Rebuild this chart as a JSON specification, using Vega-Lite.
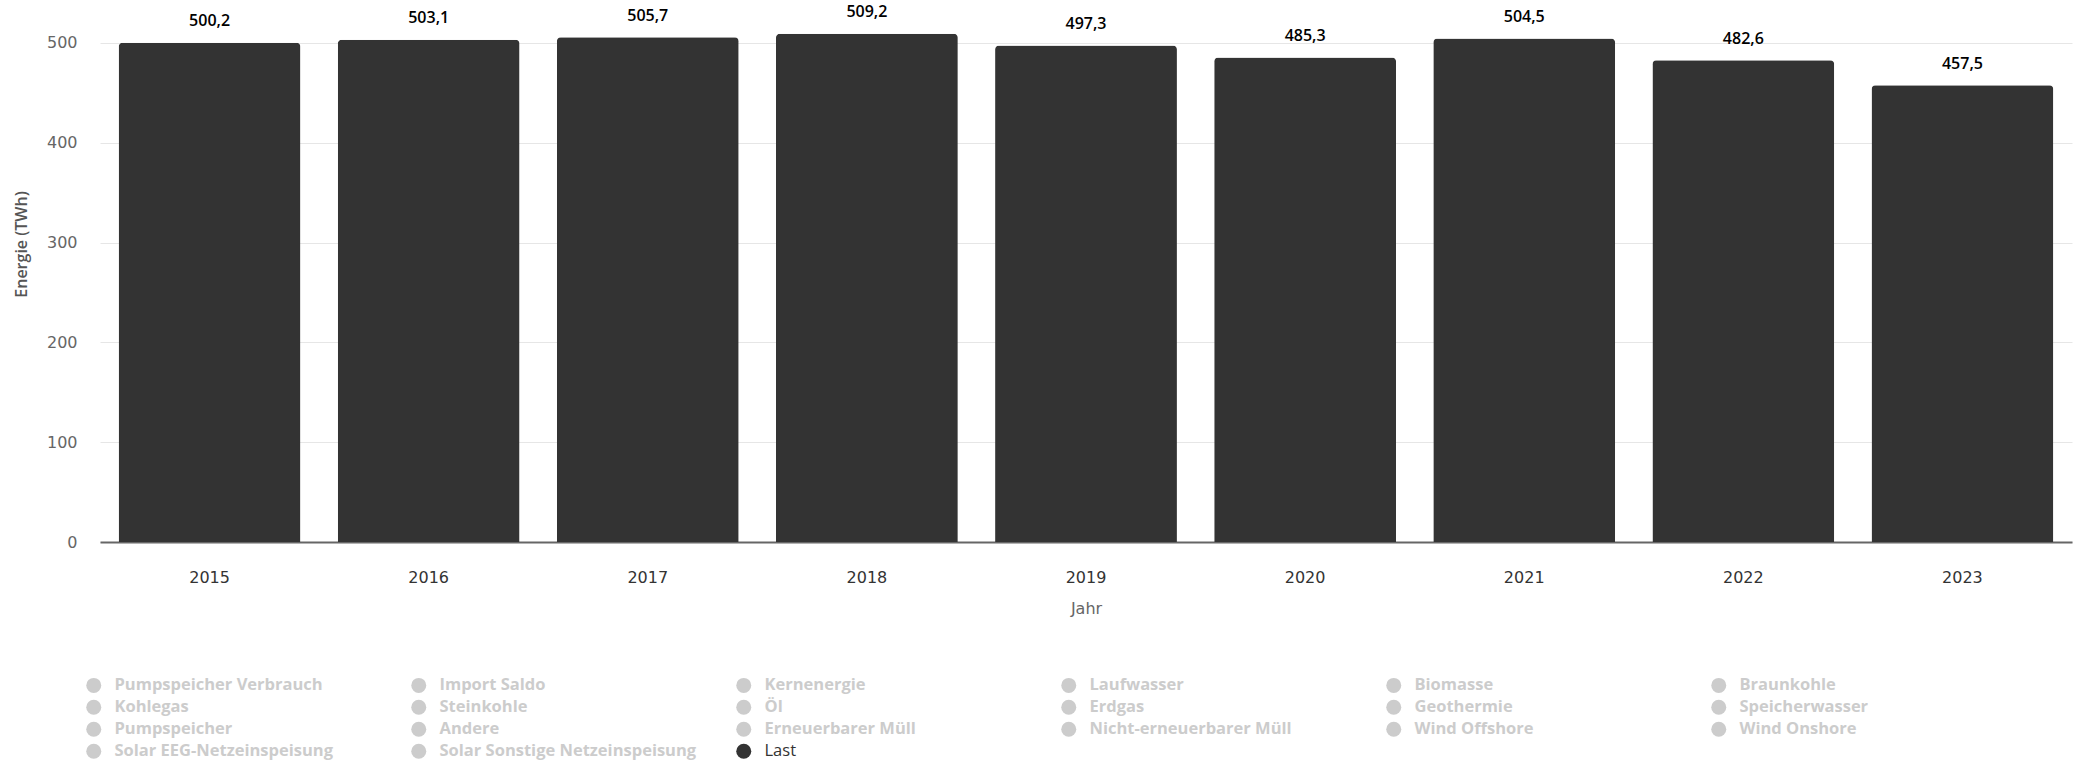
{
  "$schema": "https://vega.github.io/schema/vega-lite/v6.json",
  "autosize": {"type": "none"},
  "padding": {"left": 100, "top": 0, "right": 6, "bottom": 220},
  "width": 1972,
  "height": 542,
  "config": {
    "view": {"stroke": null},
    "locale": {"number": {"decimal": ",", "thousands": ".", "grouping": [3], "currency": ["", " €"]}}
  },
  "data": {
    "values": [
      {"Jahr": "2015", "Serie": "Last", "Energie": 500.2},
      {"Jahr": "2016", "Serie": "Last", "Energie": 503.1},
      {"Jahr": "2017", "Serie": "Last", "Energie": 505.7},
      {"Jahr": "2018", "Serie": "Last", "Energie": 509.2},
      {"Jahr": "2019", "Serie": "Last", "Energie": 497.3},
      {"Jahr": "2020", "Serie": "Last", "Energie": 485.3},
      {"Jahr": "2021", "Serie": "Last", "Energie": 504.5},
      {"Jahr": "2022", "Serie": "Last", "Energie": 482.6},
      {"Jahr": "2023", "Serie": "Last", "Energie": 457.5}
    ]
  },
  "encoding": {
    "x": {
      "field": "Jahr",
      "type": "ordinal",
      "scale": {"paddingInner": 0.17, "paddingOuter": 0.085},
      "axis": {
        "title": "Jahr",
        "labelAngle": 0,
        "labelFont": "DejaVu Sans",
        "labelFontSize": 16,
        "labelColor": "#333333",
        "labelPadding": 27,
        "ticks": false,
        "tickSize": 0,
        "domainColor": "#666666",
        "domainWidth": 2,
        "titleFont": "DejaVu Sans",
        "titleFontSize": 16,
        "titleFontWeight": "normal",
        "titleColor": "#666666",
        "titlePadding": 15
      }
    },
    "y": {
      "field": "Energie",
      "type": "quantitative",
      "scale": {"domain": [0, 543], "nice": false, "zero": true},
      "axis": {
        "title": "Energie (TWh)",
        "values": [0, 100, 200, 300, 400, 500],
        "domain": false,
        "ticks": false,
        "tickSize": 0,
        "labelFont": "DejaVu Sans",
        "labelFontSize": 16,
        "labelColor": "#666666",
        "labelPadding": 23,
        "gridColor": "#e6e6e6",
        "gridWidth": 1,
        "titleFont": "Open Sans",
        "titleFontSize": 16,
        "titleFontWeight": 600,
        "titleColor": "#555555",
        "titleX": -79,
        "titleY": 244,
        "titleAngle": -90,
        "titleBaseline": "middle",
        "titleAlign": "center"
      }
    }
  },
  "layer": [
    {
      "mark": {"type": "bar", "cornerRadiusTopLeft": 4, "cornerRadiusTopRight": 4},
      "encoding": {
        "color": {
          "field": "Serie",
          "type": "nominal",
          "scale": {
            "domain": ["Pumpspeicher Verbrauch", "Import Saldo", "Kernenergie", "Laufwasser", "Biomasse", "Braunkohle", "Kohlegas", "Steinkohle", "Öl", "Erdgas", "Geothermie", "Speicherwasser", "Pumpspeicher", "Andere", "Erneuerbarer Müll", "Nicht-erneuerbarer Müll", "Wind Offshore", "Wind Onshore", "Solar EEG-Netzeinspeisung", "Solar Sonstige Netzeinspeisung", "Last"],
            "range": ["#cccccc", "#cccccc", "#cccccc", "#cccccc", "#cccccc", "#cccccc", "#cccccc", "#cccccc", "#cccccc", "#cccccc", "#cccccc", "#cccccc", "#cccccc", "#cccccc", "#cccccc", "#cccccc", "#cccccc", "#cccccc", "#cccccc", "#cccccc", "#333333"]
          },
          "legend": {
            "orient": "none",
            "legendX": -14.5,
            "legendY": 677,
            "title": null,
            "columns": 6,
            "direction": "horizontal",
            "symbolType": "circle",
            "symbolSize": 225,
            "symbolStrokeWidth": 0,
            "symbolOpacity": 1,
            "labelFont": "Open Sans",
            "labelFontSize": 16.5,
            "labelFontWeight": "bold",
            "labelColor": "#cccccc",
            "labelOffset": 12.5,
            "labelLimit": 400,
            "columnPadding": 39,
            "rowPadding": 5.0,
            "gridAlign": "all",
            "padding": 0,
            "encode": {
              "labels": {
                "update": {
                  "fill": {"signal": "datum.label === 'Last' ? '#333333' : '#cccccc'"},
                  "fontWeight": {"signal": "datum.label === 'Last' ? 'normal' : 'bold'"}
                }
              }
            }
          }
        }
      }
    },
    {
      "mark": {"type": "text", "baseline": "middle", "dy": -21.5, "font": "Open Sans", "fontSize": 16, "fontWeight": 600, "color": "#000000"},
      "encoding": {
        "text": {"field": "Energie", "type": "quantitative", "format": ".1f"}
      }
    }
  ]
}
